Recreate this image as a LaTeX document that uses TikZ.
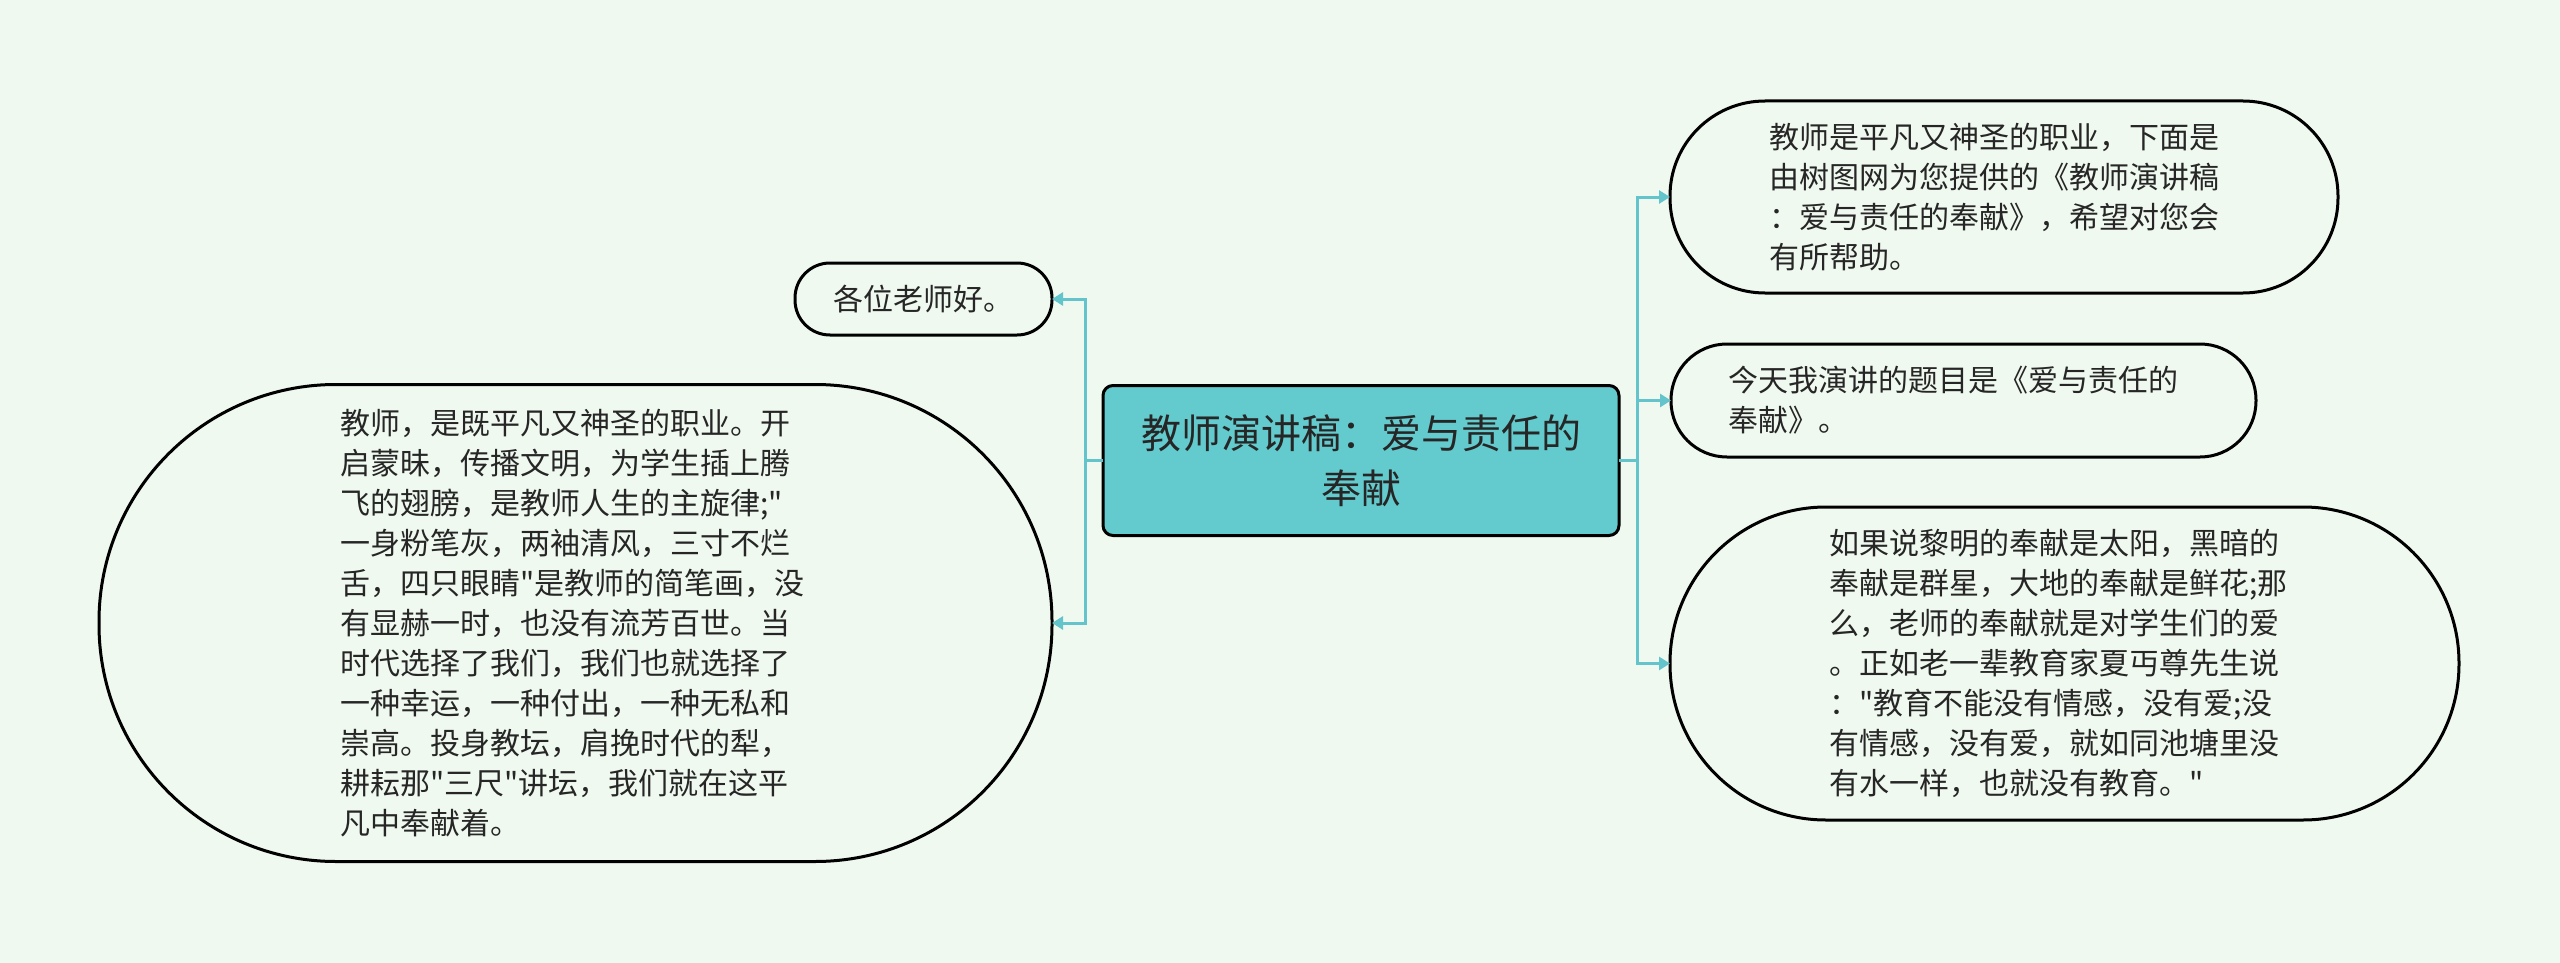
\documentclass[tikz,border=0pt]{standalone}
\usepackage{fontspec}
\newfontfamily\cjk{Noto Sans CJK SC}
\usetikzlibrary{arrows.meta}
\definecolor{bg}{RGB}{240,249,240}
\definecolor{rootfill}{RGB}{99,202,205}
\definecolor{conn}{RGB}{99,196,203}
\definecolor{txt}{RGB}{38,38,38}
\begin{document}
\begin{tikzpicture}[x=1pt,y=-1pt,
  every node/.style={inner sep=0pt, outer sep=0pt},
  leaf/.style={draw=black, line width=3pt, fill=bg, text=txt, align=left,
    font=\cjk\fontsize{30}{40}\selectfont},
  wide/.style={text width=470pt},
  root/.style={draw=black, line width=3pt, fill=rootfill, rounded corners=10pt,
    text=txt, align=center, font=\cjk\fontsize{40}{55}\selectfont},
  link/.style={draw=conn, line width=3pt, -{Triangle[length=11pt,width=13pt]}}]
\fill[bg] (0,0) rectangle (2560,963);
\useasboundingbox (0,0) rectangle (2560,963);

\node[root, minimum width=516pt, minimum height=150pt] (c) at (1361,460.5)
  {教师演讲稿：爱与责任的\\奉献};

\node[leaf, rounded corners=35pt, minimum width=257pt, minimum height=72pt] (n1) at (923.5,299)
  {各位老师好。};

\node[leaf, wide, rounded corners=237pt, minimum width=953pt, minimum height=477pt] (n2) at (575.5,623)
  {教师，是既平凡又神圣的职业。开\\
   启蒙昧，传播文明，为学生插上腾\\
   飞的翅膀，是教师人生的主旋律;"\\
   一身粉笔灰，两袖清风，三寸不烂\\
   舌，四只眼睛"是教师的简笔画，没\\
   有显赫一时，也没有流芳百世。当\\
   时代选择了我们，我们也就选择了\\
   一种幸运，一种付出，一种无私和\\
   崇高。投身教坛，肩挽时代的犁，\\
   耕耘那"三尺"讲坛，我们就在这平\\
   凡中奉献着。};

\node[leaf, wide, rounded corners=95pt, minimum width=668pt, minimum height=192pt] (r1) at (2004,197)
  {教师是平凡又神圣的职业，下面是\\
   由树图网为您提供的《教师演讲稿\\
   ：爱与责任的奉献》，希望对您会\\
   有所帮助。};

\node[leaf, wide, rounded corners=56pt, minimum width=585pt, minimum height=113pt] (r2) at (1963.5,400.5)
  {今天我演讲的题目是《爱与责任的\\
   奉献》。};

\node[leaf, wide, rounded corners=156pt, minimum width=789pt, minimum height=313pt] (r3) at (2064.5,663.5)
  {如果说黎明的奉献是太阳，黑暗的\\
   奉献是群星，大地的奉献是鲜花;那\\
   么，老师的奉献就是对学生们的爱\\
   。正如老一辈教育家夏丏尊先生说\\
   ："教育不能没有情感，没有爱;没\\
   有情感，没有爱，就如同池塘里没\\
   有水一样，也就没有教育。"};

\draw[link] (c.west) -- ++(-18,0) |- (n1.east);
\draw[link] (c.west) -- ++(-18,0) |- (n2.east);
\draw[link] (c.east) -- ++(18,0) |- (r1.west);
\draw[link] (c.east) -- ++(18,0) |- (r2.west);
\draw[link] (c.east) -- ++(18,0) |- (r3.west);
\end{tikzpicture}
\end{document}
